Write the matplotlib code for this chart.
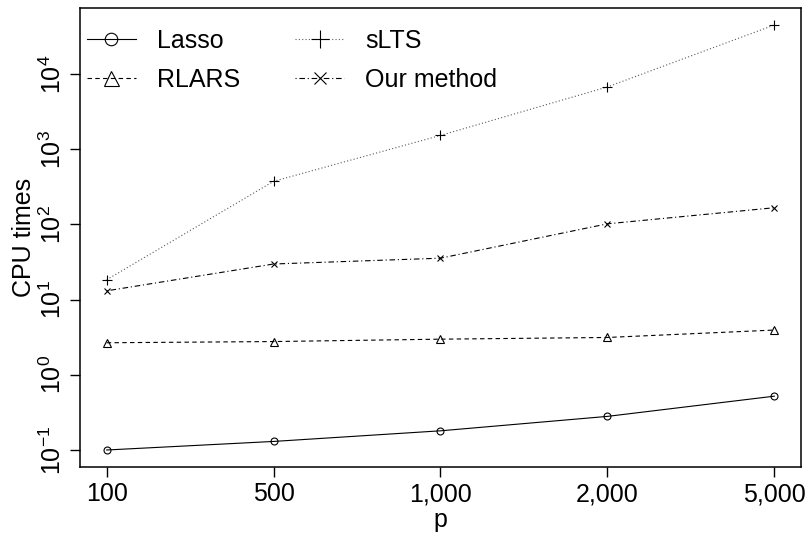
import matplotlib
matplotlib.use("Agg")
import matplotlib.pyplot as plt
import numpy as np

p_labels = ["100", "500", "1,000", "2,000", "5,000"]
lasso = [0.10, 0.13, 0.18, 0.28, 0.52]
rlars = [2.67, 2.77, 2.98, 3.14, 3.94]
slts = [18.4, 375, 1530, 6750, 45000]
ours = [13.1, 29.8, 35.6, 102, 167]

plt.rcParams['font.family'] = ['Liberation Sans', 'DejaVu Sans']
plt.rcParams['mathtext.fontset'] = 'custom'
plt.rcParams['mathtext.rm'] = 'Liberation Sans'
plt.rcParams['mathtext.it'] = 'Liberation Sans'

fig = plt.figure(figsize=(8.08, 5.33), dpi=100)
ax = fig.add_axes([80/808, 66/533, 721/808, 459/533])

x = np.arange(1, len(p_labels) + 1)
lw = 0.8
ms = 5
ax.plot(x, lasso, color='black', linestyle='-', linewidth=lw, marker='o', markersize=ms,
        markerfacecolor='none', markeredgewidth=0.8, label='Lasso')
ax.plot(x, rlars, color='black', linestyle=(0, (4, 3)), linewidth=lw, marker='^', markersize=ms+1,
        markerfacecolor='none', markeredgewidth=0.8, label='RLARS')
ax.plot(x, slts, color='0.35', linestyle=(0, (1, 2)), linewidth=lw, marker='+', markersize=ms+2,
        markeredgecolor='black', markeredgewidth=0.8, label='sLTS')
ax.plot(x, ours, color='black', linestyle=(0, (1, 2.5, 5, 2.5)), linewidth=lw, marker='x', markersize=ms,
        markeredgewidth=0.8, label='Our method')

ax.set_yscale('log')
lo, hi = np.log10(0.1), np.log10(45000)
r = hi - lo
ax.set_ylim(10**(lo - 0.04*r), 10**(hi + 0.04*r))
ax.set_xlim(1 - 0.04*4, 5 + 0.04*4)
ax.set_xticks(x)
ax.set_xticklabels(p_labels)
yt = [0.1, 1, 10, 100, 1000, 10000]
ax.set_yticks(yt)
ax.set_yticklabels([r'$10^{%d}$' % int(np.log10(v)) for v in yt], rotation=90, va='center')
ax.yaxis.set_minor_locator(matplotlib.ticker.NullLocator())
ax.tick_params(axis='both', direction='out', length=7, width=1, labelsize=18, pad=4)
ax.tick_params(axis='y', pad=3)
for s in ax.spines.values():
    s.set_linewidth(1.1)
ax.set_xlabel('p', fontsize=18, labelpad=1)
ax.set_ylabel('CPU times', fontsize=18)
ax.yaxis.set_label_coords(-0.061, 0.5)

leg = ax.legend(loc='upper left', bbox_to_anchor=(7/721, 1 - 21/459), ncol=2, frameon=False,
                fontsize=18, handlelength=1.95, handletextpad=0.85, columnspacing=2.2,
                labelspacing=0.6, borderpad=0, borderaxespad=0, markerscale=1.8)

fig.savefig('out.png', dpi=100)
